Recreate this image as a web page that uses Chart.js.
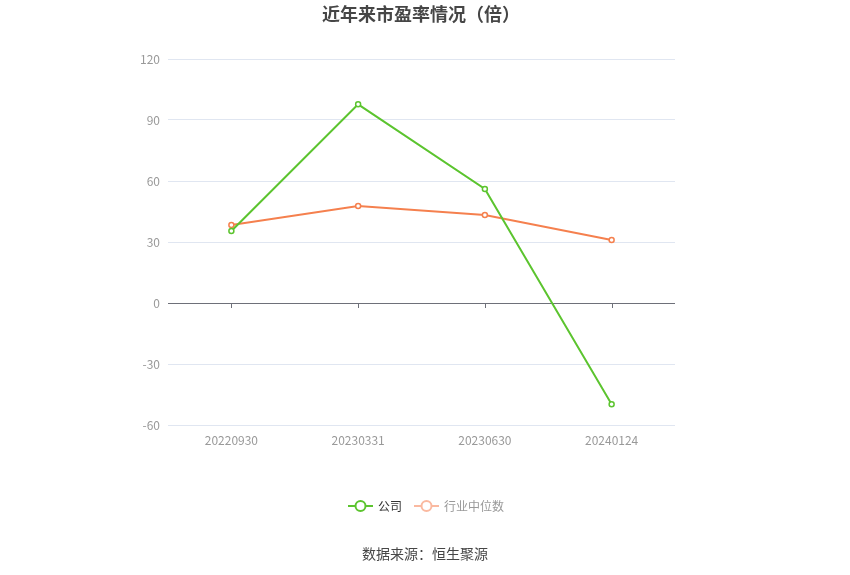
<!DOCTYPE html>
<html>
<head>
<meta charset="utf-8">
<script src="https://cdn.jsdelivr.net/npm/chart.js@4"></script>
<style>
    html, body { margin: 0; padding: 0; background: #fff; }
    #wrap { width: 850px; height: 575px; position: relative; }
</style>
</head>
<body>
<div id="wrap"><canvas id="peChart" width="850" height="575"></canvas></div>
<script>
// Chart data
var categories = ['20220930', '20230331', '20230630', '20240124'];
var companyPE = [35.4, 97.7, 56.1, -49.8];
var industryPE = [38.4, 47.7, 43.3, 31.0];
var yTicks = [-60, -30, 0, 30, 60, 90, 120];

var FONT = '"Microsoft YaHei", "Noto Sans CJK SC", sans-serif';
var GREEN = '#5cc42f';
var ORANGE = '#f5804e';

// Draw small legend icon (line with hollow circle)
function drawLegendIcon(ctx, x, y, color) {
    ctx.save();
    ctx.strokeStyle = color;
    ctx.lineWidth = 2;
    ctx.beginPath();
    ctx.moveTo(x, y);
    ctx.lineTo(x + 25, y);
    ctx.stroke();
    ctx.fillStyle = '#fff';
    ctx.beginPath();
    ctx.arc(x + 12.5, y, 5, 0, Math.PI * 2);
    ctx.fill();
    ctx.stroke();
    ctx.restore();
}

// Plugin for title, zero line ticks, legend and source text
var decorPlugin = {
    id: 'decor',
    afterDraw: function(chart) {
        var ctx = chart.ctx;
        var xScale = chart.scales.x;
        var yScale = chart.scales.y;
        var zeroY = yScale.getPixelForValue(0);

        ctx.save();
        // tick marks on the zero line
        ctx.strokeStyle = '#6e7079';
        ctx.lineWidth = 1;
        categories.forEach(function(c, i) {
            var px = Math.round(xScale.getPixelForValue(i)) + 0.5;
            ctx.beginPath();
            ctx.moveTo(px, zeroY);
            ctx.lineTo(px, zeroY + 5);
            ctx.stroke();
        });

        // title
        ctx.fillStyle = '#464646';
        ctx.font = 'bold 18px ' + FONT;
        ctx.textAlign = 'center';
        ctx.textBaseline = 'middle';
        ctx.fillText('近年来市盈率情况（倍）', 421, 14);

        // legend
        ctx.font = '12px ' + FONT;
        ctx.textAlign = 'left';
        drawLegendIcon(ctx, 348, 506, GREEN);
        ctx.fillStyle = '#333';
        ctx.fillText('公司', 378, 506);
        drawLegendIcon(ctx, 414, 506, '#fab9a0');
        ctx.fillStyle = '#999';
        ctx.fillText('行业中位数', 444, 506);

        // source
        ctx.fillStyle = '#464646';
        ctx.font = '14px ' + FONT;
        ctx.textAlign = 'center';
        ctx.fillText('数据来源：恒生聚源', 425, 554);
        ctx.restore();
    }
};

var ctx = document.getElementById('peChart').getContext('2d');
var peChart = new Chart(ctx, {
    type: 'line',
    data: {
        labels: categories,
        datasets: [{
            label: '公司',
            data: companyPE,
            borderColor: GREEN,
            backgroundColor: '#fff',
            borderWidth: 2,
            pointRadius: 2.5,
            pointBorderWidth: 1.5,
            pointBorderColor: GREEN,
            pointBackgroundColor: '#fff',
            tension: 0
        }, {
            label: '行业中位数',
            data: industryPE,
            borderColor: ORANGE,
            backgroundColor: '#fff',
            borderWidth: 2,
            pointRadius: 2.5,
            pointBorderWidth: 1.5,
            pointBorderColor: ORANGE,
            pointBackgroundColor: '#fff',
            tension: 0
        }]
    },
    options: {
        responsive: false,
        animation: false,
        layout: {
            padding: { left: 0, right: 175, top: 59, bottom: 120 }
        },
        plugins: {
            legend: { display: false },
            tooltip: { enabled: false },
            title: { display: false }
        },
        scales: {
            x: {
                offset: true,
                grid: { display: false, drawTicks: false },
                border: { display: false },
                ticks: {
                    color: '#999',
                    font: { size: 12, family: FONT },
                    padding: 8,
                    maxRotation: 0
                },
                afterFit: function(scale) { scale.height = 30; }
            },
            y: {
                min: -60,
                max: 120,
                afterBuildTicks: function(scale) {
                    scale.ticks = yTicks.map(function(v) { return { value: v }; });
                },
                grid: {
                    color: function(c) { return c.tick && c.tick.value === 0 ? '#6e7079' : '#e0e6f1'; },
                    drawTicks: false
                },
                border: { display: false },
                ticks: {
                    color: '#999',
                    font: { size: 12, family: FONT },
                    padding: 8
                },
                afterFit: function(scale) { scale.width = 168; }
            }
        }
    },
    plugins: [decorPlugin]
});
</script>
</body>
</html>
